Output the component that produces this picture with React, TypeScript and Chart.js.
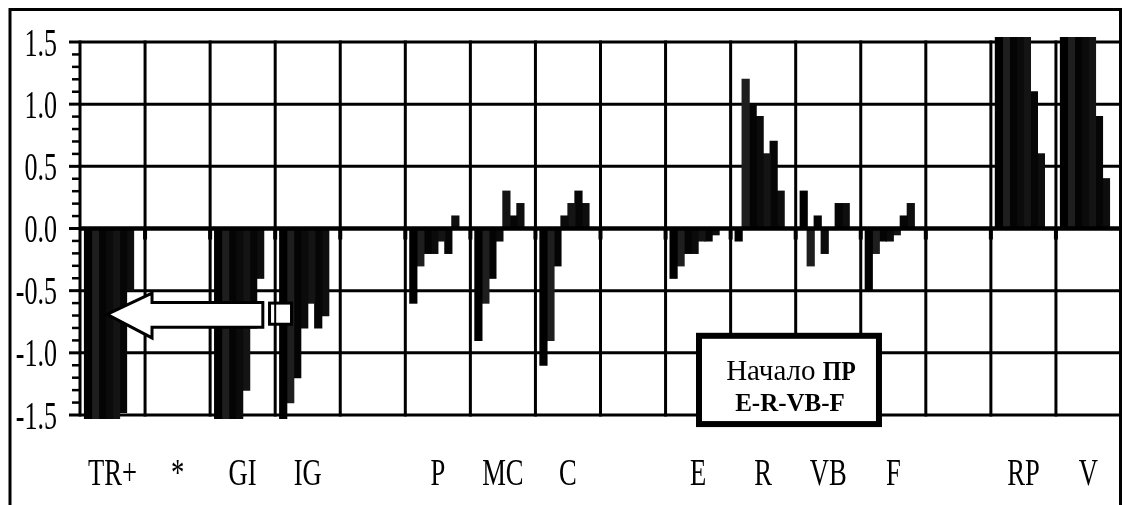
import React, { useEffect, useRef } from "react";
import { Chart, registerables } from "chart.js";

Chart.register(...registerables);

// ---------- data ----------
const categories = ["TR+", "*", "GI", "IG", "", "P", "MC", "C", "", "E", "R", "VB", "F", "", "RP", "V"];

const yTickValues = [-1.5, -1.0, -0.5, 0, 0.5, 1.0, 1.5];
const yTickLabels = ["-1.5", "-1.0", "-0.5", "0.0", "0.5", "1.0", "1.5"];

// seven successive measurements per category (±1.6 = off scale, clipped at the frame)
const series1 = [-1.6, null, -1.6, -1.6, null, -0.6, -0.9, -1.1, null, -0.4, -0.1, 0.3, -0.5, null, 1.6, 1.6];
const series2 = [-1.6, null, -1.6, -1.4, null, -0.3, -0.6, -0.9, null, -0.3, 1.2, -0.3, -0.2, null, 1.6, 1.6];
const series3 = [-1.6, null, -1.6, -1.2, null, -0.2, -0.4, -0.3, null, -0.2, 1.0, 0.1, -0.1, null, 1.6, 1.6];
const series4 = [-1.6, null, -1.6, -0.8, null, -0.2, -0.1, 0.1, null, -0.2, 0.9, -0.2, -0.1, null, 1.6, 1.6];
const series5 = [-1.6, null, -1.3, -0.6, null, -0.1, 0.3, 0.2, null, -0.1, 0.6, 0, -0.05, null, 1.6, 1.6];
const series6 = [-1.48, null, -0.8, -0.8, null, -0.2, 0.1, 0.3, null, -0.1, 0.7, 0.2, 0.1, null, 1.1, 0.9];
const series7 = [-0.5, null, -0.4, -0.7, null, 0.1, 0.2, 0.2, null, -0.05, 0.3, 0.2, 0.2, null, 0.6, 0.4];

const annotationText = "Начало";
const annotationBold = "ПР";
const annotationLine2 = "E-R-VB-F";

// ---------- styling / decoration geometry (in scale units) ----------
const seriesList = [series1, series2, series3, series4, series5, series6, series7];
const barColors = ["#000000", "#1e1e1e", "#040404", "#0b0b0b", "#141414", "#060606", "#0e0e0e"];

const ARROW: [number, number][] = [
  [-0.085, -0.69],
  [0.607, -0.52],
  [0.607, -0.595],
  [2.31, -0.595],
  [2.31, -0.795],
  [0.607, -0.795],
  [0.607, -0.88],
];
const SMALL_BOX = { x0: 2.413, x1: 2.751, y0: -0.6, y1: -0.77 };
const NOTE_BOX = { x0: 9.014, x1: 11.78, y0: -0.863, y1: -1.573 };

const SERIF = '"Liberation Serif", "Times New Roman", serif';

const decorPlugin = {
  id: "decor",
  beforeDatasetsDraw(chart: any) {
    const { ctx, chartArea: a, scales } = chart;
    const xs = scales.x;
    const ys = scales.y;
    ctx.save();
    ctx.strokeStyle = "#000";
    ctx.lineWidth = 3;
    ctx.lineCap = "butt";
    for (const v of yTickValues) {
      if (v === 0) continue;
      const py = ys.getPixelForValue(v);
      ctx.beginPath();
      ctx.moveTo(a.left, py);
      ctx.lineTo(a.right, py);
      ctx.stroke();
    }
    for (let k = 1; k < categories.length; k++) {
      const px = xs.getPixelForValue(k - 0.5);
      ctx.beginPath();
      ctx.moveTo(px, a.top - 1.5);
      ctx.lineTo(px, a.bottom + 1.5);
      ctx.stroke();
    }
    ctx.restore();
  },
  afterDatasetsDraw(chart: any) {
    const { ctx, chartArea: a, scales } = chart;
    const xs = scales.x;
    const ys = scales.y;
    const X = (v: number) => xs.getPixelForValue(v);
    const Y = (v: number) => ys.getPixelForValue(v);
    ctx.save();
    ctx.strokeStyle = "#000";
    ctx.lineCap = "butt";

    // zero line
    const y0 = Y(0);
    ctx.lineWidth = 4.5;
    ctx.beginPath();
    ctx.moveTo(a.left, y0);
    ctx.lineTo(a.right, y0);
    ctx.stroke();

    // x tick stubs at the zero line
    ctx.lineWidth = 4;
    for (let k = 1; k < categories.length; k++) {
      const px = X(k - 0.5);
      ctx.beginPath();
      ctx.moveTo(px, y0);
      ctx.lineTo(px, y0 + 11);
      ctx.stroke();
    }

    // left axis
    ctx.lineWidth = 3;
    ctx.beginPath();
    ctx.moveTo(a.left, a.top - 1.5);
    ctx.lineTo(a.left, a.bottom + 1.5);
    ctx.stroke();

    // y ticks: minor every 0.1, major every 0.5
    for (let i = -15; i <= 15; i++) {
      const v = i / 10;
      const py = Y(v);
      const major = i % 5 === 0;
      ctx.lineWidth = major ? 3 : 2.5;
      ctx.beginPath();
      ctx.moveTo(a.left - (major ? 11 : 8), py);
      ctx.lineTo(a.left, py);
      ctx.stroke();
    }

    // y tick labels (condensed serif)
    ctx.fillStyle = "#000";
    ctx.font = `40px ${SERIF}`;
    ctx.textAlign = "right";
    ctx.textBaseline = "alphabetic";
    yTickValues.forEach((v, i) => {
      ctx.save();
      ctx.translate(a.left - 23, Y(v) + 13.5);
      ctx.scale(0.65, 1);
      ctx.fillText(yTickLabels[i], 0, 0);
      ctx.restore();
    });

    // category labels
    ctx.font = `38px ${SERIF}`;
    ctx.textAlign = "center";
    categories.forEach((c, i) => {
      if (!c) return;
      ctx.save();
      ctx.translate(X(i), a.bottom + 70);
      ctx.scale(0.7, 1);
      ctx.fillText(c, 0, 0);
      ctx.restore();
    });

    // arrow
    ctx.lineWidth = 3;
    ctx.lineJoin = "miter";
    ctx.fillStyle = "#fff";
    ctx.beginPath();
    ARROW.forEach(([vx, vy], i) => {
      if (i === 0) ctx.moveTo(X(vx), Y(vy));
      else ctx.lineTo(X(vx), Y(vy));
    });
    ctx.closePath();
    ctx.fill();
    ctx.stroke();

    // small box next to the arrow tail
    {
      const l = X(SMALL_BOX.x0), r = X(SMALL_BOX.x1);
      const t = Y(SMALL_BOX.y0), b = Y(SMALL_BOX.y1);
      ctx.fillStyle = "#fff";
      ctx.fillRect(l, t, r - l, b - t);
      ctx.lineWidth = 3;
      ctx.strokeRect(l, t, r - l, b - t);
      const gx = X(2.5);
      ctx.lineWidth = 2;
      ctx.beginPath();
      ctx.moveTo(gx, t);
      ctx.lineTo(gx, b);
      ctx.stroke();
    }

    // note box
    {
      const l = X(NOTE_BOX.x0), r = X(NOTE_BOX.x1);
      const t = Y(NOTE_BOX.y0), b = Y(NOTE_BOX.y1);
      ctx.fillStyle = "#fff";
      ctx.fillRect(l, t, r - l, b - t);
      ctx.lineWidth = 6;
      ctx.strokeRect(l, t, r - l, b - t);
      const cx = (l + r) / 2;
      ctx.fillStyle = "#000";
      ctx.textAlign = "left";
      ctx.font = `29px ${SERIF}`;
      const w1 = ctx.measureText(annotationText + " ").width;
      ctx.font = `bold 28px ${SERIF}`;
      const w2 = ctx.measureText(annotationBold).width * 0.85;
      const start = cx - (w1 + w2) / 2 + 2;
      const base1 = t + 44;
      ctx.font = `29px ${SERIF}`;
      ctx.fillText(annotationText + " ", start, base1);
      ctx.save();
      ctx.translate(start + w1, base1);
      ctx.scale(0.85, 1);
      ctx.font = `bold 28px ${SERIF}`;
      ctx.fillText(annotationBold, 0, 0);
      ctx.restore();
      ctx.textAlign = "center";
      ctx.font = `bold 25px ${SERIF}`;
      ctx.fillText(annotationLine2, cx + 1, t + 75);
    }

    // outer frame
    ctx.lineWidth = 3;
    ctx.strokeRect(10, 9.5, a.right - 0.5 - 10, chart.height + 20);
    ctx.restore();
  },
};

export default function App() {
  const canvasRef = useRef<HTMLCanvasElement | null>(null);

  useEffect(() => {
    const canvas = canvasRef.current;
    if (!canvas) return;
    const datasets: any[] = seriesList.map((s, i) => ({
      label: `t${i + 1}`,
      data: s,
      backgroundColor: barColors[i],
      borderWidth: 0,
      inflateAmount: 0.6,
      barPercentage: 1,
      categoryPercentage: 0.861,
      clip: { left: 0, top: 5, right: 0, bottom: 4 },
    }));
    // empty slot that keeps the bar group left-aligned in each column
    datasets.push({
      label: "",
      data: categories.map(() => null),
      backgroundColor: "rgba(0,0,0,0)",
      borderWidth: 0,
      barPercentage: 1,
      categoryPercentage: 0.861,
    });
    const chart = new Chart(canvas, {
      type: "bar",
      data: { labels: categories, datasets },
      options: {
        responsive: false,
        animation: false,
        devicePixelRatio: 1,
        layout: { padding: { left: 80, right: 4, top: 42, bottom: 90 } },
        plugins: { legend: { display: false }, tooltip: { enabled: false } },
        scales: {
          x: { display: false, offset: true, grid: { display: false } },
          y: { display: false, min: -1.5, max: 1.5 },
        },
      },
      plugins: [decorPlugin],
    });
    return () => chart.destroy();
  }, []);

  return (
    <div style={{ position: "fixed", left: 0, top: 0, width: 1125, height: 505, background: "#fff" }}>
      <canvas ref={canvasRef} width={1125} height={505} style={{ display: "block" }} />
    </div>
  );
}
